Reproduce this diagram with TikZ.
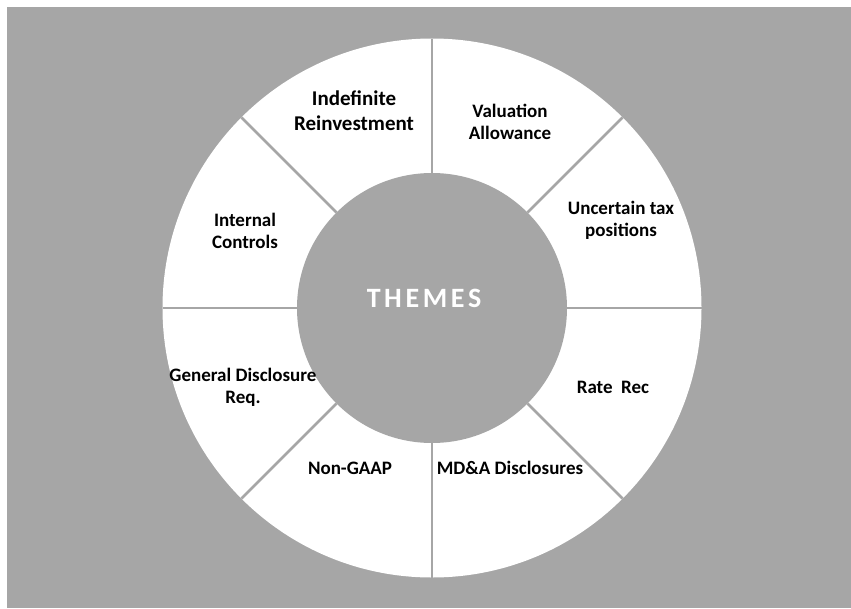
\documentclass[tikz,border=0pt]{standalone}
\usepackage{fontspec}
\setmainfont{Carlito}
\usetikzlibrary{calc}
\definecolor{bggray}{HTML}{A6A6A6}
\begin{document}
\begin{tikzpicture}[x=1pt,y=-1pt,
  lbl/.style={font=\bfseries\fontsize{19}{22}\selectfont, align=center, anchor=base, text=black, inner sep=0pt},
  biglbl/.style={font=\bfseries\fontsize{21}{25}\selectfont, align=center, anchor=base, text=black, inner sep=0pt},
  divider/.style={draw=bggray, line width=2.6pt}]
\useasboundingbox (0,0) rectangle (851,608);
\fill[white] (0,0) rectangle (851,608);
\fill[bggray] (7,7) rectangle (851,608);
\coordinate (c) at (432,308);
\fill[white] (c) circle[radius=269.5];
\foreach \a in {0,45,...,315}{
  \draw[divider] ($(c)+(\a:135)$) -- ($(c)+(\a:269.5)$);
}
\node[circle, fill=bggray, minimum size=270pt, inner sep=0pt] (core) at (c) {};
\node[font=\bfseries\fontsize{28}{32}\selectfont\addfontfeature{LetterSpace=13}, text=white, anchor=base, inner sep=0pt] (themes) at (424,307) {THEMES};
\node[biglbl] (indef) at (354,130) {Indefinite\\Reinvestment};
\node[lbl] (val) at (510,139) {Valuation\\Allowance};
\node[lbl] (unc) at (621,236) {Uncertain tax\\positions};
\node[lbl] (ic) at (245,248) {Internal\\Controls};
\node[lbl] (gen) at (243,403) {General Disclosure\\Req.};
\node[lbl] (rate) at (613,393) {Rate\ \ Rec};
\node[lbl] (ngaap) at (350,474) {Non-GAAP};
\node[lbl] (mda) at (510,474) {MD\&A Disclosures};
\end{tikzpicture}
\end{document}
